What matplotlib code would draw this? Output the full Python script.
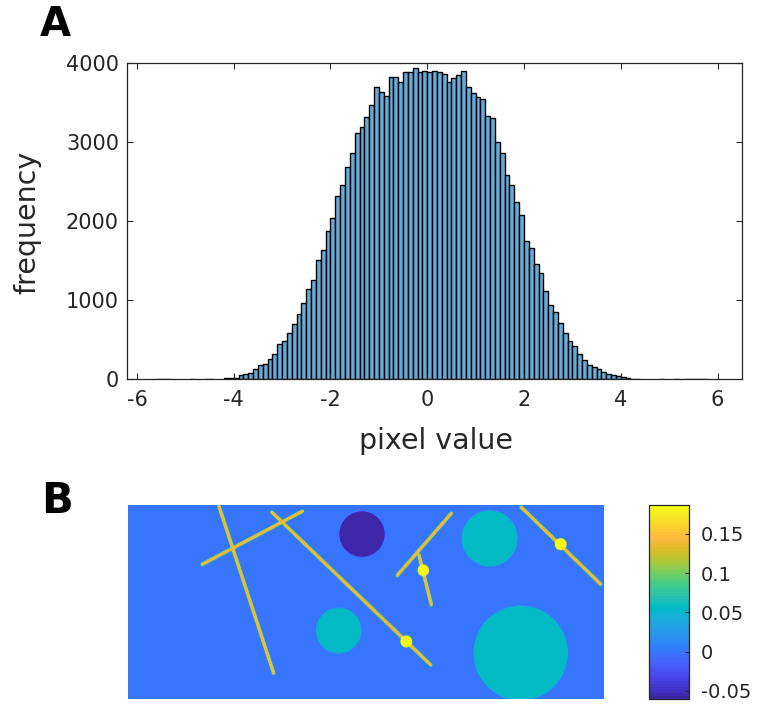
import numpy as np
import matplotlib
matplotlib.use("Agg")
import matplotlib.pyplot as plt
from matplotlib.colors import ListedColormap

# --- panel A: histogram of pixel values (bin width 0.1, from -6.2 to 6.5) ---
bin_lo, bin_hi, bin_width = -6.2, 6.5, 0.1
counts = [
    0, 0, 0, 0, 0, 0, 1, 3, 3, 0,                                 # -6.2 .. -5.3
    0, 0, 0, 1, 0, 0, 1, 1, 0, 0,                                 # -5.2 .. -4.3
    15, 12, 18, 50, 70, 84, 127, 181, 194, 255,                   # -4.2 .. -3.3
    318, 450, 483, 580, 696, 827, 970, 1148, 1262, 1506,          # -3.2 .. -2.3
    1637, 1880, 2038, 2320, 2465, 2692, 2869, 3114, 3198, 3325,   # -2.2 .. -1.3
    3470, 3696, 3633, 3582, 3827, 3827, 3762, 3888, 3888, 3936,   # -1.2 .. -0.3
    3894, 3905, 3894, 3907, 3894, 3860, 3763, 3810, 3848, 3907,   # -0.2 .. 0.7
    3694, 3618, 3569, 3548, 3339, 3305, 3000, 2865, 2592, 2462,   # 0.8 .. 1.7
    2249, 2078, 1751, 1662, 1460, 1342, 1122, 941, 856, 715,      # 1.8 .. 2.7
    582, 487, 426, 321, 245, 185, 150, 127, 93, 68,               # 2.8 .. 3.7
    51, 38, 25, 13, 4, 1, 0, 0, 0, 0,                             # 3.8 .. 4.7
    1, 0, 0, 2, 0, 1, 2, 1, 1, 1,                                 # 4.8 .. 5.7
    0, 0, 0, 0, 0, 0, 0,                                          # 5.8 .. 6.4
]
x_ticks = [-6, -4, -2, 0, 2, 4, 6]
y_ticks = [0, 1000, 2000, 3000, 4000]

# --- panel B: phantom image, shapes in image pixels (x right, y down) ---
img_w, img_h = 476, 194
background_val = 0.0
disk_x = [234.0, 361.7, 210.7, 392.7]
disk_y = [30.0, 34.3, 126.0, 148.3]
disk_r = [22.7, 27.7, 22.5, 47.0]
disk_val = [-0.0606, 0.058, 0.058, 0.058]
seg_x0 = [91.0, 74.3, 144.0, 269.3, 291.0, 393.3]
seg_y0 = [2.3, 60.0, 8.3, 71.0, 51.0, 3.3]
seg_x1 = [145.7, 174.3, 302.7, 323.3, 303.3, 472.7]
seg_y1 = [168.3, 7.3, 160.0, 9.3, 100.0, 79.7]
seg_val = 0.14
seg_halfwidth = 1.8
dot_x = [295.3, 278.3, 432.7]
dot_y = [66.0, 136.7, 40.0]
dot_r = [5.8, 6.0, 6.0]
dot_val = 0.1866
cbar_ticks = [-0.05, 0, 0.05, 0.1, 0.15]
cbar_labels = ["-0.05", "0", "0.05", "0.1", "0.15"]

parula = ListedColormap([
    [0.2422, 0.1504, 0.6603], [0.2504, 0.1650, 0.7076], [0.2578, 0.1818, 0.7511],
    [0.2647, 0.1978, 0.7952], [0.2706, 0.2147, 0.8364], [0.2751, 0.2342, 0.8710],
    [0.2783, 0.2559, 0.8991], [0.2803, 0.2782, 0.9221], [0.2813, 0.3006, 0.9414],
    [0.2810, 0.3228, 0.9579], [0.2795, 0.3447, 0.9717], [0.2760, 0.3667, 0.9829],
    [0.2699, 0.3892, 0.9906], [0.2602, 0.4123, 0.9952], [0.2440, 0.4358, 0.9988],
    [0.2206, 0.4603, 0.9973], [0.1963, 0.4847, 0.9892], [0.1834, 0.5074, 0.9798],
    [0.1786, 0.5289, 0.9682], [0.1764, 0.5499, 0.9520], [0.1687, 0.5703, 0.9359],
    [0.1540, 0.5902, 0.9218], [0.1460, 0.6091, 0.9079], [0.1380, 0.6276, 0.8973],
    [0.1248, 0.6459, 0.8883], [0.1113, 0.6635, 0.8763], [0.0952, 0.6798, 0.8598],
    [0.0689, 0.6948, 0.8394], [0.0297, 0.7082, 0.8163], [0.0036, 0.7203, 0.7917],
    [0.0067, 0.7312, 0.7660], [0.0433, 0.7411, 0.7394], [0.0964, 0.7500, 0.7120],
    [0.1408, 0.7584, 0.6842], [0.1717, 0.7670, 0.6554], [0.1938, 0.7758, 0.6251],
    [0.2161, 0.7843, 0.5923], [0.2470, 0.7918, 0.5567], [0.2906, 0.7973, 0.5188],
    [0.3406, 0.8008, 0.4789], [0.3909, 0.8029, 0.4354], [0.4456, 0.8024, 0.3909],
    [0.5044, 0.7993, 0.3480], [0.5616, 0.7942, 0.3045], [0.6174, 0.7876, 0.2612],
    [0.6720, 0.7793, 0.2227], [0.7242, 0.7698, 0.1910], [0.7738, 0.7598, 0.1646],
    [0.8203, 0.7498, 0.1535], [0.8634, 0.7406, 0.1596], [0.9035, 0.7330, 0.1774],
    [0.9393, 0.7288, 0.2100], [0.9728, 0.7298, 0.2394], [0.9956, 0.7434, 0.2371],
    [0.9970, 0.7659, 0.2199], [0.9952, 0.7893, 0.2028], [0.9892, 0.8136, 0.1885],
    [0.9786, 0.8386, 0.1766], [0.9676, 0.8639, 0.1643], [0.9610, 0.8890, 0.1537],
    [0.9597, 0.9135, 0.1423], [0.9628, 0.9373, 0.1265], [0.9691, 0.9606, 0.1064],
    [0.9769, 0.9839, 0.0805]], name="parula")

plt.rcParams["axes.unicode_minus"] = False
plt.rcParams["font.family"] = "DejaVu Sans"
dark = "#262626"


def build_phantom():
    yy, xx = np.mgrid[0:img_h, 0:img_w] + 0.5
    img = np.full((img_h, img_w), background_val)

    def paint(img, dist, radius, val):
        a = np.clip(radius - dist + 0.5, 0, 1)
        return img * (1 - a) + val * a

    for cx, cy, r, v in zip(disk_x, disk_y, disk_r, disk_val):
        img = paint(img, np.hypot(xx - cx, yy - cy), r, v)
    for x0, y0, x1, y1 in zip(seg_x0, seg_y0, seg_x1, seg_y1):
        dx, dy = x1 - x0, y1 - y0
        t = np.clip(((xx - x0) * dx + (yy - y0) * dy) / (dx * dx + dy * dy), 0, 1)
        d = np.hypot(xx - (x0 + t * dx), yy - (y0 + t * dy))
        img = paint(img, d, seg_halfwidth, seg_val)
    for cx, cy, r in zip(dot_x, dot_y, dot_r):
        img = paint(img, np.hypot(xx - cx, yy - cy), r, dot_val)
    return img


fig = plt.figure(figsize=(7.59, 7.04), dpi=100)

# panel A
edges = np.linspace(bin_lo, bin_hi, len(counts) + 1)
cnt = np.array(counts)
keep = cnt > 0
ax = fig.add_axes([0.1677, 0.4612, 0.8095, 0.4489])
ax.bar(edges[:-1][keep], cnt[keep], width=bin_width, align="edge",
       color=(0.4, 0.668, 0.845), edgecolor="black", linewidth=1.0)
ax.set_xlim(bin_lo, bin_hi)
ax.set_ylim(0, 4000)
ax.set_xticks(x_ticks)
ax.set_yticks(y_ticks)
ax.tick_params(direction="in", top=True, right=True, length=4.5, width=0.8,
               labelsize=15, colors=dark)
ax.tick_params(axis="x", pad=8)
ax.tick_params(axis="y", pad=6)
for s in ax.spines.values():
    s.set_color(dark)
    s.set_linewidth(0.9)
fig.text(27 / 759, 1 - 222 / 704, "frequency", rotation=90, ha="center",
         va="center", fontsize=20.5, color=dark)
fig.text(435.5 / 759, 1 - 441 / 704, "pixel value", ha="center", va="center",
         fontsize=20.5, color=dark)

# panel B
img = build_phantom()
axi = fig.add_axes([0.169, 0.0067, 0.6267, 0.276])
im = axi.imshow(img, cmap=parula, aspect="auto", interpolation="bilinear",
                vmin=img.min(), vmax=img.max())
axi.axis("off")
cax = fig.add_axes([0.8547, 0.0067, 0.0536, 0.276])
cb = fig.colorbar(im, cax=cax, ticks=cbar_ticks)
cb.ax.set_yticklabels(cbar_labels)
cb.ax.tick_params(direction="in", length=3, width=0.8, labelsize=14,
                  colors=dark, pad=8)
cb.outline.set_edgecolor(dark)
cb.outline.set_linewidth(0.9)

fig.text(40 / 759, 1 - 5 / 704, "A", fontsize=29, fontweight="bold", va="top")
fig.text(41 / 759, 1 - 480 / 704, "B", fontsize=30, fontweight="bold", va="top")

fig.savefig("out.png", dpi=100)
